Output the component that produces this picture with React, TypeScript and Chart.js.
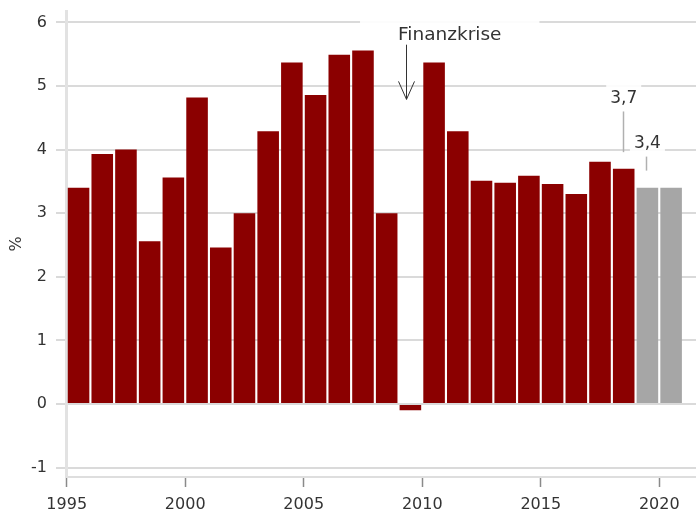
import React, { useEffect, useRef } from 'react';
import { Chart, registerables } from 'chart.js';

Chart.register(...registerables);

// ---- data ----
const years: number[] = [
  1995, 1996, 1997, 1998, 1999, 2000, 2001, 2002, 2003, 2004, 2005, 2006, 2007,
  2008, 2009, 2010, 2011, 2012, 2013, 2014, 2015, 2016, 2017, 2018, 2019, 2020,
];
const growth: number[] = [
  3.4, 3.93, 4.0, 2.56, 3.56, 4.82, 2.46, 3.0, 4.29, 5.37, 4.86, 5.49, 5.56,
  3.0, -0.1, 5.37, 4.29, 3.51, 3.48, 3.59, 3.46, 3.3, 3.81, 3.7, 3.4, 3.4,
];
const forecast: boolean[] = years.map((y) => y >= 2019);
const yTickValues: number[] = [-1, 0, 1, 2, 3, 4, 5, 6];
const xTickValues: number[] = [1995, 2000, 2005, 2010, 2015, 2020];

// annotations (data coordinates)
const crisisText = 'Finanzkrise';
const crisisLabel = { x: 2011.16, y: 5.8 };
const crisisArrow = { x: 2009.3, yTop: 5.65, yTip: 4.79 };

const valueNotes = [
  { text: '3,7', x: 2018.5, y: 4.8, lineTop: 4.6, lineBottom: 3.96 },
  { text: '3,4', x: 2019.5, y: 4.09, lineTop: 3.89, lineBottom: 3.67 },
];

const FONT = '"DejaVu Sans", Verdana, sans-serif';
const TEXT = '#333333';
const CRISIS_FONT = 18.5;
const NOTE_FONT = 17;

const notesPlugin = {
  id: 'notes',
  beforeDatasetsDraw(chart: any) {
    const { ctx } = chart;
    const xs = chart.scales.x;
    const ys = chart.scales.y;
    ctx.save();
    ctx.fillStyle = 'rgba(255,255,255,0.9)';
    ctx.font = `${CRISIS_FONT}px ${FONT}`;
    const tw = ctx.measureText(crisisText).width;
    const cx = xs.getPixelForValue(crisisLabel.x);
    const cy = ys.getPixelForValue(crisisLabel.y);
    ctx.fillRect(cx - tw / 2 - 38, cy - 23, tw + 76, 34);
    ctx.font = `${NOTE_FONT}px ${FONT}`;
    valueNotes.forEach((n) => {
      const w = ctx.measureText(n.text).width;
      const px = xs.getPixelForValue(n.x);
      const py = ys.getPixelForValue(n.y);
      ctx.fillRect(px - w / 2 - 4, py - 14, w + 8, 26);
    });
    ctx.restore();
  },
  afterDatasetsDraw(chart: any) {
    const { ctx } = chart;
    const xs = chart.scales.x;
    const ys = chart.scales.y;
    ctx.save();
    ctx.textAlign = 'center';
    ctx.textBaseline = 'middle';
    ctx.fillStyle = TEXT;
    ctx.font = `${CRISIS_FONT}px ${FONT}`;
    ctx.fillText(crisisText, xs.getPixelForValue(crisisLabel.x), ys.getPixelForValue(crisisLabel.y));
    const ax = Math.round(xs.getPixelForValue(crisisArrow.x)) + 0.5;
    const at = ys.getPixelForValue(crisisArrow.yTop);
    const ab = ys.getPixelForValue(crisisArrow.yTip);
    ctx.strokeStyle = '#333333';
    ctx.lineWidth = 1;
    ctx.beginPath();
    ctx.moveTo(ax, at);
    ctx.lineTo(ax, ab);
    ctx.moveTo(ax - 8, ab - 18);
    ctx.lineTo(ax, ab);
    ctx.lineTo(ax + 8, ab - 18);
    ctx.stroke();
    ctx.font = `${NOTE_FONT}px ${FONT}`;
    valueNotes.forEach((n) => {
      const px = xs.getPixelForValue(n.x);
      ctx.fillStyle = TEXT;
      ctx.fillText(n.text, px, ys.getPixelForValue(n.y));
      ctx.strokeStyle = '#b0b0b0';
      ctx.lineWidth = 1.5;
      ctx.beginPath();
      const lx = Math.round(px) - 0.5;
      ctx.moveTo(lx, ys.getPixelForValue(n.lineTop));
      ctx.lineTo(lx, ys.getPixelForValue(n.lineBottom));
      ctx.stroke();
    });
    ctx.restore();
  },
};

export default function App() {
  const ref = useRef<HTMLCanvasElement | null>(null);

  useEffect(() => {
    if (!ref.current) return;
    const chart = new Chart(ref.current, {
      type: 'bar',
      data: {
        datasets: [
          {
            data: years.map((yr, i) => ({ x: yr + 0.5, y: growth[i] })),
            backgroundColor: forecast.map((f) => (f ? '#a6a6a6' : '#8b0000')),
            borderWidth: 0,
            barPercentage: 1,
            categoryPercentage: 0.91,
          },
        ],
      },
      options: {
        animation: false,
        responsive: false,
        devicePixelRatio: 1,
        layout: { padding: { top: 11, right: 0, left: 0, bottom: 0 } },
        plugins: {
          legend: { display: false },
          tooltip: { enabled: false },
        },
        scales: {
          x: {
            type: 'linear',
            offset: false,
            min: 1995,
            max: 2021.55,
            afterFit: (s: any) => {
              s.height = 32;
              s.paddingLeft = 0;
              s.paddingRight = 0;
            },
            afterBuildTicks: (s: any) => {
              s.ticks = xTickValues.map((v) => ({ value: v }));
            },
            ticks: {
              font: { family: FONT, size: 16 },
              color: TEXT,
              padding: 8,
              maxRotation: 0,
              autoSkip: false,
              callback: (v: any) => String(v),
            },
            grid: {
              offset: false,
              drawOnChartArea: false,
              drawTicks: true,
              tickLength: 10,
              tickColor: '#8a8a8a',
              tickWidth: 1.5,
            },
            border: { display: true, color: '#dedede', width: 2 },
          },
          y: {
            min: -1.149,
            max: 6.18,
            afterFit: (s: any) => {
              s.width = 66.7;
              s.paddingTop = 0;
              s.paddingBottom = 0;
            },
            afterBuildTicks: (s: any) => {
              s.ticks = yTickValues.map((v) => ({ value: v }));
            },
            ticks: {
              font: { family: FONT, size: 16 },
              color: TEXT,
              padding: 9,
              callback: (v: any) => String(v),
            },
            grid: {
              color: '#dadada',
              lineWidth: 2,
              tickLength: 10.7,
              drawTicks: true,
            },
            border: { display: true, color: '#e2e2e2', width: 3 },
            title: {
              display: true,
              text: '%',
              color: TEXT,
              font: { family: FONT, size: 16 },
              padding: { top: 7, bottom: 0 },
            },
          },
        },
      },
      plugins: [notesPlugin],
    } as any);
    return () => chart.destroy();
  }, []);

  return (
    <div style={{ position: 'absolute', left: 0, top: 0, width: 696, height: 509 }}>
      <canvas ref={ref} width={696} height={509} />
    </div>
  );
}
